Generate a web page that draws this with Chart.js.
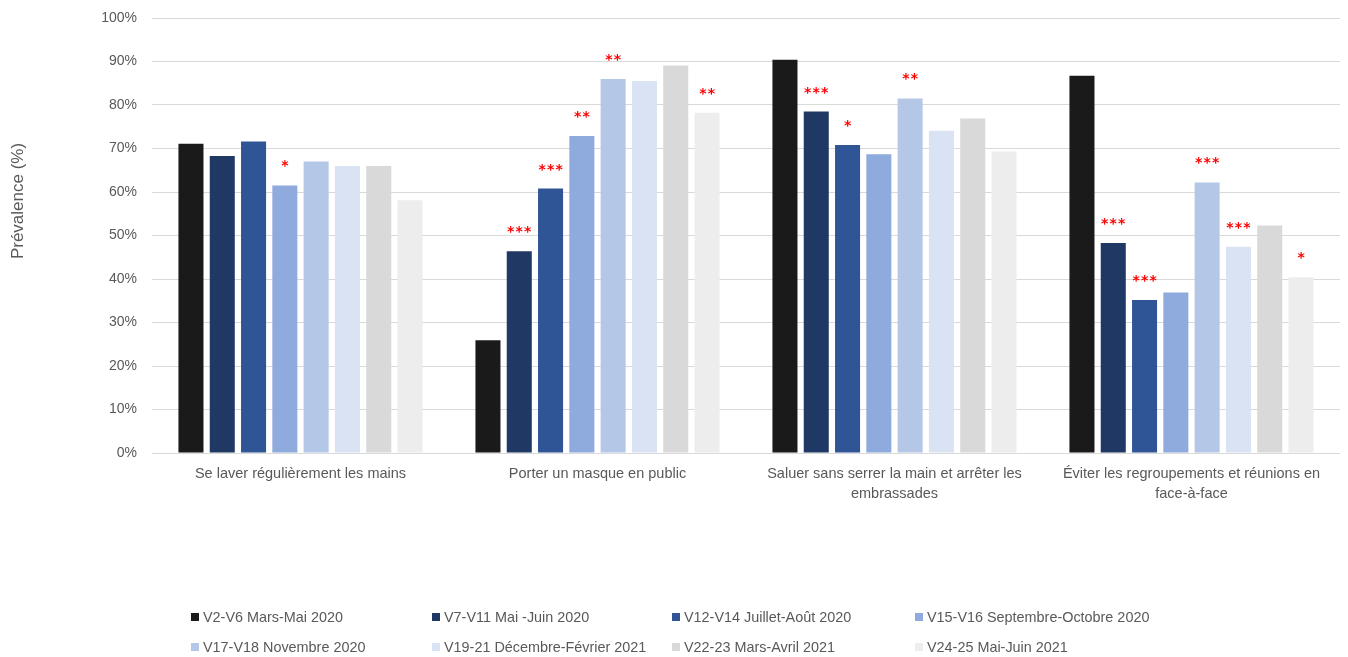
<!DOCTYPE html>
<html>
<head>
<meta charset="utf-8">
<script src="https://cdn.jsdelivr.net/npm/chart.js@4.4.1/dist/chart.umd.min.js"></script>
<style>
  html, body { margin: 0; padding: 0; background: #fff; }
  #wrap { position: relative; width: 1348px; height: 657px; }
  #c { position: absolute; left: 0; top: 0; }
  #legend { position: absolute; left: 191px; top: 607px; width: 1100px;
    font-family: "Liberation Sans", Arial, sans-serif; font-size: 14.4px; color: #595959; }
  .li { position: absolute; display: flex; align-items: center; white-space: nowrap; height: 20px; }
  .sw { width: 8px; height: 8px; margin-right: 4px; }
</style>
</head>
<body>
<div id="wrap">
  <canvas id="c" width="1348" height="657"></canvas>
  <div id="legend"></div>
</div>
<script>
// ---- data ----
const categories = [
  "Se laver régulièrement les mains",
  "Porter un masque en public",
  ["Saluer sans serrer la main et arrêter les", "embrassades"],
  ["Éviter les regroupements et réunions en", "face-à-face"]
];
const seriesLabels = [
  "V2-V6 Mars-Mai 2020",
  "V7-V11 Mai -Juin 2020",
  "V12-V14 Juillet-Août 2020",
  "V15-V16 Septembre-Octobre 2020",
  "V17-V18 Novembre 2020",
  "V19-21 Décembre-Février 2021",
  "V22-23 Mars-Avril 2021",
  "V24-25 Mai-Juin 2021"
];
const seriesColors = ["#1a1a1a", "#203864", "#2f5597", "#8faadc", "#b4c7e7", "#dae3f3", "#d9d9d9", "#ededed"];
const v2v6   = [71.1, 25.9, 90.4, 86.7];
const v7v11  = [68.3, 46.4, 78.5, 48.3];
const v12v14 = [71.6, 60.8, 70.8, 35.2];
const v15v16 = [61.5, 72.9, 68.7, 36.9];
const v17v18 = [67.0, 86.0, 81.5, 62.2];
const v19v21 = [66.0, 85.5, 74.1, 47.4];
const v22v23 = [66.0, 89.1, 76.9, 52.3];
const v24v25 = [58.1, 78.2, 69.3, 40.4];
const seriesValues = [v2v6, v7v11, v12v14, v15v16, v17v18, v19v21, v22v23, v24v25];
// significance markers (number of stars)
const sig2v6   = [0, 0, 0, 0];
const sig7v11  = [0, 3, 3, 3];
const sig12v14 = [0, 3, 1, 3];
const sig15v16 = [1, 2, 0, 0];
const sig17v18 = [0, 2, 2, 3];
const sig19v21 = [0, 0, 0, 3];
const sig22v23 = [0, 0, 0, 0];
const sig24v25 = [0, 2, 0, 1];
const seriesSig = [sig2v6, sig7v11, sig12v14, sig15v16, sig17v18, sig19v21, sig22v23, sig24v25];
const yTicks = [0, 10, 20, 30, 40, 50, 60, 70, 80, 90, 100];

const FONT = '"Liberation Sans", Arial, sans-serif';
const GREY = '#595959';

const starsPlugin = {
  id: 'stars',
  afterDatasetsDraw(chart) {
    const ctx = chart.ctx;
    ctx.save();
    ctx.fillStyle = '#ff0000';
    ctx.font = 'bold 14px "DejaVu Sans", sans-serif';
    ctx.textAlign = 'center';
    ctx.textBaseline = 'alphabetic';
    chart.data.datasets.forEach((ds, i) => {
      const meta = chart.getDatasetMeta(i);
      meta.data.forEach((bar, j) => {
        const n = seriesSig[i][j];
        for (let k = 0; k < n; k++) {
          const x = bar.x + (k - (n - 1) / 2) * 8.5;
          ctx.fillText('*', x, bar.y - 15);
        }
      });
    });
    ctx.restore();
  }
};

const yTitlePlugin = {
  id: 'ytitle',
  afterDraw(chart) {
    const ctx = chart.ctx;
    ctx.save();
    ctx.translate(18, 201);
    ctx.rotate(-Math.PI / 2);
    ctx.fillStyle = GREY;
    ctx.font = '17px ' + FONT;
    ctx.textAlign = 'center';
    ctx.textBaseline = 'middle';
    ctx.fillText('Prévalence (%)', 0, 0);
    ctx.restore();
  }
};

const chart = new Chart(document.getElementById('c'), {
  type: 'bar',
  data: {
    labels: categories,
    datasets: seriesLabels.map((lab, i) => ({
      label: lab,
      data: seriesValues[i],
      backgroundColor: seriesColors[i],
      borderWidth: 0,
      categoryPercentage: 0.843,
      barPercentage: 0.8
    }))
  },
  options: {
    responsive: false,
    animation: false,
    layout: { padding: { top: 18, right: 8, left: 0, bottom: 0 } },
    plugins: {
      legend: { display: false },
      tooltip: { enabled: false }
    },
    scales: {
      x: {
        grid: { display: false },
        border: { display: false },
        ticks: { color: GREY, font: { family: FONT, size: 14.5, lineHeight: 1.4 }, padding: 3, maxRotation: 0, autoSkip: false },
        afterFit(scale) { scale.height = 204; }
      },
      y: {
        min: 0, max: 100,
        afterBuildTicks(scale) { scale.ticks = yTicks.map(v => ({ value: v })); },
        grid: { color: '#d9d9d9', lineWidth: 1, drawTicks: false },
        border: { display: false },
        ticks: { color: GREY, font: { family: FONT, size: 14 }, padding: 15, callback: v => v + '%' },
        afterFit(scale) { scale.width = 152; scale.paddingTop = 0; scale.paddingBottom = 0; }
      }
    }
  },
  plugins: [starsPlugin, yTitlePlugin]
});

// HTML legend built from chart datasets
const legend = document.getElementById('legend');
const colX = [0, 241, 481, 724];
chart.data.datasets.forEach((ds, i) => {
  const item = document.createElement('div');
  item.className = 'li';
  item.style.left = colX[i % 4] + 'px';
  item.style.top = (Math.floor(i / 4) * 30) + 'px';
  const sw = document.createElement('span');
  sw.className = 'sw';
  sw.style.background = ds.backgroundColor;
  const tx = document.createElement('span');
  tx.textContent = ds.label;
  item.appendChild(sw);
  item.appendChild(tx);
  legend.appendChild(item);
});
</script>
</body>
</html>
